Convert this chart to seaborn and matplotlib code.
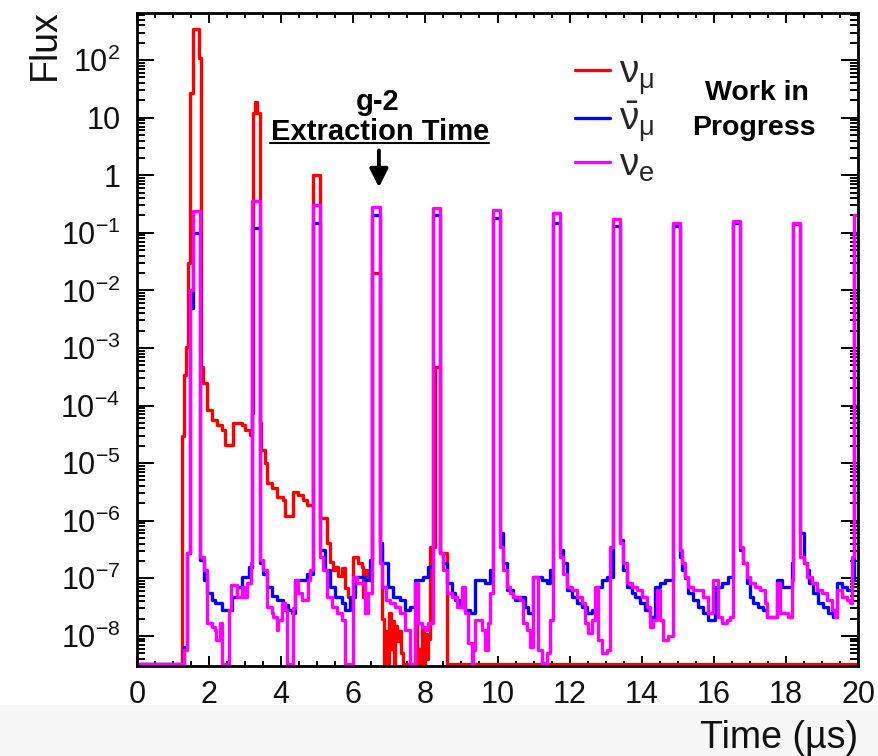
import numpy as np
import pandas as pd
import matplotlib
matplotlib.use("Agg")
import matplotlib.pyplot as plt
from matplotlib.patches import Rectangle
from matplotlib.ticker import FixedLocator, FixedFormatter, LogLocator, MultipleLocator, NullFormatter
import seaborn as sns

# ---------------- data (step histograms) ----------------
numu_edges = [0, 1.25, 1.30, 1.36, 1.42, 1.47, 1.55, 1.72, 1.77, 1.84, 1.95, 2.07, 2.23, 2.35, 2.44, 2.67,
              2.90, 3.00, 3.13, 3.18, 3.22, 3.27, 3.33, 3.40, 3.45, 3.55, 3.61, 3.74, 3.87, 4.05, 4.10,
              4.34, 4.47, 4.60, 4.71, 4.87, 5.07, 5.28, 5.35, 5.44, 5.49, 5.58, 5.68, 5.77, 5.85, 6.00,
              6.13, 6.23, 6.27, 6.32, 6.41, 6.53, 6.73, 6.80, 6.85, 6.89, 6.94, 6.98, 7.04, 7.08, 7.13,
              7.17, 7.22, 7.27, 7.33, 7.38, 7.70, 7.76, 7.80, 7.84, 7.90, 7.95, 7.99, 8.04, 8.08, 8.14,
              8.27, 8.41, 8.60, 20.0]
numu_flux = [0, 2.9e-5, 3.4e-4, 1.05e-3, 3.0e-2, 27, 340, 107, 4.7e-4, 2.5e-4, 8.3e-5, 5.6e-5, 4.6e-5,
             3.8e-5, 2.1e-5, 4.9e-5, 4.6e-5, 3.8e-5, 3.1e-5, 7.4e-5, 12, 19, 12, 4.9e-5, 1.7e-5, 1.0e-5,
             4.5e-6, 3.7e-6, 2.6e-6, 2.3e-6, 1.2e-6, 3.2e-6, 2.8e-6, 2.3e-6, 1.9e-6, 1.0, 1.1e-6, 4.1e-7,
             1.9e-7, 1.4e-7, 1.6e-7, 1.1e-7, 1.5e-7, 6.7e-8, 4.8e-8, 2.35e-7, 1.85e-7, 1.58e-7, 4.8e-8,
             1.4e-7, 1.06e-7, 0.02, 3.5e-7, 2.0e-8, 0, 1.2e-8, 0, 2.5e-8, 6e-9, 1.8e-8, 0, 1.5e-8, 8e-9,
             1.2e-8, 5e-9, 0, 2.0e-8, 0, 6e-9, 0, 1.4e-8, 0, 1.1e-8, 4e-9, 9e-9, 3.5e-7, 4.7e-4, 2.8e-7, 0]

numubar_edges = [0, 1.30, 1.39, 1.47, 1.55, 1.75, 1.86, 1.94, 2.08, 2.16, 2.36, 2.64, 2.77, 2.91, 3.11,
                 3.19, 3.41, 3.50, 3.60, 3.74, 3.88, 4.05, 4.19, 4.30, 4.38, 4.72, 4.87, 5.07, 5.22, 5.35,
                 5.49, 5.69, 5.77, 5.91, 6.05, 6.32, 6.46, 6.53, 6.73, 6.80, 6.96, 7.10, 7.30, 7.43, 7.57,
                 7.71, 7.93, 8.07, 8.20, 8.41, 8.50, 8.60, 8.74, 8.82, 8.96, 9.10, 9.24, 9.38, 9.65, 9.79,
                 9.88, 10.07, 10.15, 10.26, 10.43, 10.49, 10.62, 10.76, 10.85, 10.98, 11.23, 11.37, 11.46,
                 11.54, 11.73, 11.83, 11.93, 12.07, 12.21, 12.34, 12.48, 12.62, 12.76, 12.90, 13.04, 13.20,
                 13.40, 13.48, 13.59, 13.73, 13.81, 13.95, 14.09, 14.23, 14.37, 14.51, 14.65, 14.87, 15.07,
                 15.12, 15.20, 15.28, 15.42, 15.56, 15.70, 15.84, 16.03, 16.23, 16.39, 16.53, 16.73, 16.80,
                 16.92, 17.00, 17.09, 17.23, 17.36, 17.48, 17.75, 17.89, 18.17, 18.20, 18.39, 18.50, 18.59,
                 18.65, 18.75, 18.89, 19.03, 19.17, 19.31, 19.42, 19.56, 19.69, 19.83, 19.90, 20.0]
numubar_flux = [0, 6.5e-9, 2.8e-7, 5e-3, 0.1, 2.1e-7, 9.4e-8, 5.6e-8, 4.2e-8, 3.7e-8, 2.8e-8, 4.75e-8,
                7.1e-8, 1.06e-7, 1.58e-7, 0.12, 1.85e-7, 1.2e-7, 7.1e-8, 5.0e-8, 4.2e-8, 3.5e-8, 2.8e-8,
                2.5e-8, 9.4e-8, 1.2e-7, 0.15, 3.1e-7, 1.4e-7, 7.1e-8, 4.75e-8, 3.7e-8, 2.8e-8, 4.75e-8,
                1.06e-7, 9.4e-8, 2.1e-7, 0.2, 4.1e-7, 1.85e-7, 7.1e-8, 4.75e-8, 4.2e-8, 2.8e-8, 3.2e-8,
                9.4e-8, 1.06e-7, 1.58e-7, 0.2, 2.8e-7, 1.85e-7, 8.3e-8, 5.6e-8, 4.2e-8, 3.2e-8, 2.8e-8,
                2.5e-8, 9.4e-8, 8.3e-8, 1.4e-7, 0.18, 6.2e-7, 1.85e-7, 6.3e-8, 4.75e-8, 4.2e-8, 4.75e-8,
                3.2e-8, 2.5e-8, 1.06e-7, 9.4e-8, 8.3e-8, 1.4e-7, 0.15, 3.1e-7, 1.85e-7, 6.3e-8, 4.75e-8,
                3.7e-8, 3.2e-8, 2.5e-8, 2.8e-8, 7.1e-8, 9.4e-8, 1.06e-7, 0.13, 4.6e-7, 1.4e-7, 7.1e-8,
                5.6e-8, 4.75e-8, 3.7e-8, 2.8e-8, 2.14e-8, 7.1e-8, 8.3e-8, 9.4e-8, 0.13, 2.35e-7, 1.4e-7,
                1.0e-7, 5.6e-8, 4.2e-8, 3.2e-8, 2.5e-8, 1.9e-8, 7.1e-8, 8.3e-8, 1.06e-7, 0.15, 3.1e-7,
                1.85e-7, 8.3e-8, 4.75e-8, 3.7e-8, 3.2e-8, 2.8e-8, 2.14e-8, 9.4e-8, 7.1e-8, 1.85e-7, 0.14,
                6.2e-7, 1.85e-7, 1.4e-7, 8.3e-8, 5.6e-8, 3.7e-8, 3.2e-8, 2.5e-8, 2.14e-8, 8.3e-8, 7.1e-8,
                6.3e-8, 9.4e-8, 0.1]

nue_edges = [0, 1.30, 1.39, 1.47, 1.55, 1.75, 1.86, 1.94, 2.08, 2.16, 2.20, 2.30, 2.36, 2.55, 2.62, 2.77,
             2.91, 2.97, 3.05, 3.15, 3.19, 3.41, 3.50, 3.60, 3.74, 3.77, 3.88, 3.91, 4.02, 4.10, 4.16,
             4.33, 4.38, 4.47, 4.58, 4.74, 4.80, 4.87, 5.07, 5.15, 5.26, 5.41, 5.55, 5.69, 5.77, 6.00,
             6.10, 6.32, 6.42, 6.53, 6.73, 6.80, 6.90, 7.02, 7.16, 7.30, 7.43, 7.57, 7.71, 7.80, 7.91,
             8.00, 8.07, 8.20, 8.41, 8.50, 8.60, 8.74, 8.88, 9.02, 9.10, 9.18, 9.29, 9.32, 9.38, 9.57,
             9.65, 9.74, 9.79, 9.88, 10.07, 10.15, 10.26, 10.35, 10.43, 10.62, 10.71, 10.82, 10.90, 10.98,
             11.12, 11.23, 11.37, 11.46, 11.54, 11.73, 11.83, 11.93, 12.07, 12.21, 12.34, 12.43, 12.51,
             12.62, 12.70, 12.79, 12.90, 13.04, 13.12, 13.20, 13.40, 13.48, 13.59, 13.73, 13.87, 14.01,
             14.15, 14.23, 14.31, 14.42, 14.51, 14.59, 14.73, 14.87, 15.07, 15.12, 15.20, 15.28, 15.42,
             15.70, 15.84, 15.98, 16.12, 16.23, 16.37, 16.45, 16.53, 16.73, 16.80, 16.92, 17.00, 17.14,
             17.28, 17.42, 17.48, 17.75, 17.84, 18.06, 18.17, 18.20, 18.39, 18.50, 18.59, 18.72, 18.85,
             19.00, 19.14, 19.28, 19.36, 19.42, 19.56, 19.69, 19.78, 19.83, 19.90, 20.0]
nue_flux = [0, 5.7e-9, 2.8e-7, 1e-2, 0.24, 2.35e-7, 1.4e-7, 1.68e-8, 1.43e-8, 1.27e-8, 8.5e-9, 1.68e-8, 0,
            2.8e-8, 7.5e-8, 4.75e-8, 7.1e-8, 4.75e-8, 8.3e-8, 1.85e-7, 0.35, 2.1e-7, 1.4e-7, 3.2e-8,
            2.5e-8, 2.14e-8, 1.27e-8, 1.9e-8, 3.7e-8, 2.8e-8, 0, 3.0e-8, 9.4e-8, 5.6e-8, 4.2e-8, 9.4e-8,
            1.4e-7, 0.3, 2.35e-7, 1.4e-7, 4.75e-8, 3.2e-8, 2.5e-8, 1.9e-8, 0, 1.06e-7, 8.3e-8, 2.5e-8,
            5.6e-8, 0.28, 1.85e-7, 7.1e-8, 4.2e-8, 3.7e-8, 3.2e-8, 2.5e-8, 1.27e-8, 0, 8.3e-8, 1.68e-8,
            1.43e-8, 1.27e-8, 1.68e-8, 0.27, 2.8e-7, 1.4e-7, 5.6e-8, 4.75e-8, 3.2e-8, 7.1e-8, 2.5e-8,
            7.6e-9, 0, 5.7e-9, 1.9e-8, 1.27e-8, 5.7e-9, 1.68e-8, 5.6e-8, 0.25, 3.5e-7, 1.4e-7, 7.1e-8,
            5.6e-8, 4.75e-8, 4.2e-8, 1.68e-8, 1.27e-8, 6.5e-9, 1.06e-7, 5.7e-9, 3.4e-9, 5.1e-9, 1.9e-8,
            0.22, 2.35e-7, 1.2e-7, 7.1e-8, 6.3e-8, 4.75e-8, 3.7e-8, 1.68e-8, 1.13e-8, 1.9e-8, 7.1e-8,
            8.5e-9, 5.1e-9, 5.7e-9, 3.5e-7, 0.17, 4.1e-7, 1.85e-7, 8.3e-8, 7.1e-8, 6.3e-8, 4.75e-8,
            3.2e-8, 1.43e-8, 1.9e-8, 6.3e-8, 1.9e-8, 8.5e-9, 9.8e-9, 0.15, 3.1e-7, 1.85e-7, 1.06e-7,
            7.1e-8, 6.3e-8, 4.75e-8, 2.5e-8, 9.4e-8, 2.14e-8, 1.68e-8, 1.9e-8, 2.14e-8, 0.16, 3.5e-7,
            1.85e-7, 1.06e-7, 8.3e-8, 7.1e-8, 6.3e-8, 3.7e-8, 2.14e-8, 8.3e-8, 2.5e-8, 2.14e-8, 9.4e-8,
            0.15, 2.35e-7, 1.85e-7, 1.06e-7, 8.3e-8, 6.3e-8, 5.6e-8, 4.2e-8, 2.8e-8, 2.14e-8, 6.3e-8,
            4.75e-8, 4.2e-8, 3.7e-8, 2.35e-7, 0.2]

series_labels = [r"$\nu_{\mu}$", r"$\bar{\nu}_{\mu}$", r"$\nu_{e}$"]
series_colors = ["#ff0000", "#0000ff", "#ff00ff"]

xtick_values = [0, 2, 4, 6, 8, 10, 12, 14, 16, 18, 20]
ytick_values = [1e-8, 1e-7, 1e-6, 1e-5, 1e-4, 1e-3, 1e-2, 1e-1, 1, 10, 100]
ytick_labels = [r"$10^{-8}$", r"$10^{-7}$", r"$10^{-6}$", r"$10^{-5}$", r"$10^{-4}$", r"$10^{-3}$",
                r"$10^{-2}$", r"$10^{-1}$", "1", "10", r"$10^{2}$"]

x_label = "Time (\u00b5s)"
y_label = "Flux"

# ---------------- style ----------------
sns.set_style("ticks")
plt.rcParams["font.family"] = ["Liberation Sans", "DejaVu Sans"]
plt.rcParams["mathtext.fontset"] = "custom"
plt.rcParams["mathtext.rm"] = "Liberation Sans"
plt.rcParams["mathtext.it"] = "Liberation Sans:italic"
plt.rcParams["mathtext.bf"] = "Liberation Sans:bold"
plt.rcParams["mathtext.default"] = "regular"

YMIN, YMAX = 3.0e-9, 655.0
FLOOR = YMIN * 1.07   # empty bins are drawn on the bottom frame, as in ROOT

rows = []
for lab, edges, vals in zip(series_labels,
                            [numu_edges, numubar_edges, nue_edges],
                            [numu_flux, numubar_flux, nue_flux]):
    assert len(edges) == len(vals) + 1, lab
    ext = list(vals) + [vals[-1]]
    for x, y in zip(edges, ext):
        rows.append((lab, x, y if y > 0 else FLOOR))
df = pd.DataFrame(rows, columns=["series", "time", "flux"])

W, H = 879, 756
fig = plt.figure(figsize=(W / 100, H / 100), dpi=100)
fig.patches.append(Rectangle((0, 0), 1, (H - 705) / H, transform=fig.transFigure,
                             facecolor="#f7f7f7", edgecolor="none", zorder=-10))
L, R, T, B = 137, 858, 13, 666
ax = fig.add_axes([L / W, 1 - B / H, (R - L) / W, (B - T) / H])
ax.set_facecolor("white")

sns.lineplot(data=df, x="time", y="flux", hue="series", hue_order=series_labels,
             palette=series_colors, estimator=None, sort=False, drawstyle="steps-post",
             linewidth=2.4, ax=ax, legend=True)

ax.set_yscale("log")
ax.set_xlim(0, 20)
ax.set_ylim(YMIN, YMAX)

ax.xaxis.set_major_locator(FixedLocator(xtick_values))
ax.xaxis.set_minor_locator(MultipleLocator(0.5))
ax.yaxis.set_major_locator(FixedLocator(ytick_values))
ax.yaxis.set_major_formatter(FixedFormatter(ytick_labels))
ax.yaxis.set_minor_locator(LogLocator(base=10, subs=np.arange(2, 10), numticks=100))
ax.yaxis.set_minor_formatter(NullFormatter())

ax.tick_params(axis="both", which="both", direction="in", top=True, right=True,
               width=1.4, color="black", labelsize=22, labelcolor="#111111")
ax.tick_params(axis="x", which="major", length=7.5, pad=10)
ax.tick_params(axis="x", which="minor", length=3.8)
ax.tick_params(axis="y", which="major", length=12, pad=12)
ax.tick_params(axis="y", which="minor", length=6)
for s in ax.spines.values():
    s.set_linewidth(2.0)
    s.set_color("black")

ax.set_xlabel(x_label, fontsize=27, color="#111111", loc="right")
ax.xaxis.set_label_coords(1.0, -0.082)
ax.set_ylabel(y_label, fontsize=27, color="#111111", loc="top")
ax.yaxis.set_label_coords(-0.103, 1.005)

handles, labels = ax.get_legend_handles_labels()
ax.legend(handles, labels, loc="upper left", bbox_to_anchor=(0.607, 0.935), frameon=False,
          fontsize=28, handlelength=0.9, handletextpad=0.25, labelspacing=0.05,
          borderaxespad=0, borderpad=0)

bold = dict(fontweight="bold", color="black", ha="center", va="center", transform=ax.transAxes)
ax.text(0.334, 0.864, "g-2", fontsize=21, **bold)
ax.text(0.337, 0.818, "Extraction Time", fontsize=21, **bold)
ax.plot([0.1845, 0.488], [0.801, 0.801], color="black", lw=1.5, transform=ax.transAxes, clip_on=False)
ax.annotate("", xy=(6.71, 0.55), xytext=(6.71, 3.0),
            arrowprops=dict(arrowstyle="-|>,head_width=0.55,head_length=1.1", color="black", lw=2.8))
ax.text(0.86, 0.8775, "Work in", fontsize=20.5, **bold)
ax.text(0.856, 0.824, "Progress", fontsize=20.5, **bold)

fig.savefig("out.png", dpi=100)
